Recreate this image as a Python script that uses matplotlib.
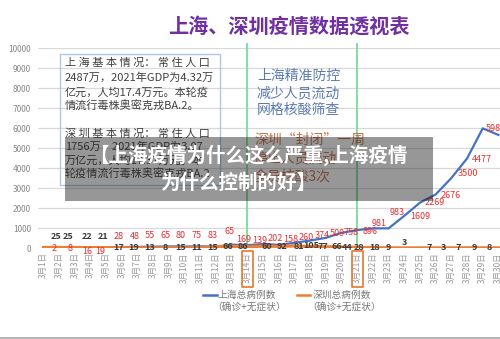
import matplotlib.pyplot as plt
import matplotlib.transforms as mtransforms
from matplotlib.patches import Rectangle
from matplotlib.lines import Line2D

plt.rcParams['font.family'] = ['Noto Sans CJK SC', 'DejaVu Sans']

# data
dates = [f'3月{d}日' for d in range(1, 31)]
shanghai = [2, 8, 16, 19, 28, 48, 55, 65, 80, 75, 83, 65, 169, 139, 202, 158,
            260, 374, 509, 758, 896, 981, 983, 1609, 2269, 2676, 3500, 4477, 5982, 5653]
shenzhen = [25, 25, 22, 21, 17, 19, 13, 8, 15, 11, 15, 66, 86, 60, 92, 81,
            105, 77, 66, 44, 28, 18, 9, 3, 7, 3, 7, 9, 8, 6]
marked_days = ['3月14日', '3月21日']

title = '上海、深圳疫情数据透视表'
info_lines = ['上 海 基 本 情 况： 常 住 人 口', '2487万，2021年GDP为4.32万',
              '亿元，人均17.4万元。本轮疫', '情流行毒株奥密克戎BA.2。',
              '深 圳 基 本 情 况： 常 住 人 口', '1756万，2021年GDP为3.07',
              '万亿元，人均17.37万元。本', '轮疫情流行毒株奥密克戎BA.2']
sh_note = ['上海精准防控', '减少人员流动', '网格核酸筛查']
sz_note = ['深圳“封闭”一周', '停止人员流动', '全员核酸3次']
overlay = ['【上海疫情为什么这么严重,上海疫情', '为什么控制的好】']

# label offsets in pixels
sh_dx = [11, 11, 12, 10, 12, 13, 12, 12, 12, 12, 12, 14, 12, 12, 12, 12,
         12, 12, 11, 10, 13, 6, 9, 16, 15, 15, 17, 15, 13, 20]
sh_dy = [-1, -1, -4, -4, 11, 11, 11, 11, 11, 11, 11, 15, 5, 5, 5, 5,
         5, 5, 4, 0, -1, 5, 16, -1, 0, -1, 5, -1, 0, 0]
sz_dx = [13, 9, 12, 13, 12, 12, 12, 12, 12, 12, 12, 12, 11, 19, 19, 20,
         17, 13, 11, 6, 2, 2, 0, 0, 9, 8, 7, 7, 7, 12]
sz_dy = [11, 11, 11, 11, 0, 0, 0, 0, 0, 0, 0, 0, 0, 0, 0, 0,
         0, 0, 0, 0, 0, 0, 0, 5, 0, 0, 0, 0, 0, 0]

W, H = 500, 339


def fx(x):
    return x / W


def fy(y):
    return 1 - y / H


fig = plt.figure(figsize=(5, 3.39), dpi=100)
ax = fig.add_axes([fx(38), fy(248), 462 / W, 200 / H])

x = list(range(len(dates)))
ax.plot(x, shanghai, color='#4472c4', lw=1.6, zorder=3)
ax.plot(x, shenzhen, color='#ed7d31', lw=2.3, zorder=4)

for i in x:
    ax.annotate(str(shanghai[i]), (i, shanghai[i]), xytext=(sh_dx[i], sh_dy[i]),
                textcoords='offset pixels', ha='center', va='center',
                fontsize=6.5, color='#e8302f', zorder=6, annotation_clip=False)
    ax.annotate(str(shenzhen[i]), (i, shenzhen[i]), xytext=(sz_dx[i], sz_dy[i]),
                textcoords='offset pixels', ha='center', va='center',
                fontsize=6.5, color='#3a3a3a', fontweight='bold', zorder=5,
                annotation_clip=False)

ax.set_xlim(-0.35, 29.1)
ax.set_ylim(0, 10000)
ax.set_yticks(range(0, 10001, 1000))
ax.yaxis.grid(True, color='#d9d9d9', lw=0.9)
ax.set_axisbelow(True)
ax.set_xticks(x)
ax.set_xticklabels(dates, rotation=90, fontsize=6, color='#999999')
ax.tick_params(axis='x', length=0, pad=3)
ax.tick_params(axis='y', length=0, pad=5, labelsize=6, labelcolor='#888888')
for s in ax.spines.values():
    s.set_visible(False)

mark_idx = [dates.index(d) for d in marked_days]
ax.vlines(mark_idx, 0, 10250, colors='#7fe0a0', lw=1.4, clip_on=False, zorder=2)
trans = mtransforms.blended_transform_factory(ax.transData, ax.transAxes)
for i in mark_idx:
    ax.add_patch(Rectangle((i - 0.36, -0.195), 0.72, 0.18, transform=trans,
                           fill=False, edgecolor='#e8772e', lw=1.2,
                           clip_on=False, joinstyle='round'))

fig.text(fx(289), fy(26), title, ha='center', va='center', fontsize=14.5,
         color='#7030a0', fontweight='bold')

fig.add_artist(Rectangle((fx(60), fy(185)), 160 / W, 131 / H, transform=fig.transFigure,
                         fill=False, edgecolor='#a9c8ea', lw=1))
info_y = [63, 78, 92, 106, 133, 147, 161, 174]
for t, yy in zip(info_lines, info_y):
    fig.text(fx(65), fy(yy), t, ha='left', va='center', fontsize=8, color='#404040')

for k, t in enumerate(sh_note):
    fig.text(fx(257), fy(76 + 17 * k), t, ha='left', va='center', fontsize=10,
             color='#5b7bb0')
for k, t in enumerate(sz_note):
    fig.text(fx(254), fy(140 + 18 * k), t, ha='left', va='center', fontsize=10,
             color='#c8704a')

fig.add_artist(Rectangle((fx(65), fy(201)), 368 / W, 64 / H, transform=fig.transFigure,
                         facecolor='#1a1a1a', edgecolor='none', alpha=0.45, zorder=10))
fig.text(fx(248), fy(155), overlay[0], ha='center', va='center', fontsize=14,
         color='white', fontweight='bold', zorder=11)
fig.text(fx(238), fy(183), overlay[1], ha='center', va='center', fontsize=14,
         color='white', fontweight='bold', zorder=11)

# legend
fig.add_artist(Line2D([fx(203), fx(217)], [fy(295)] * 2, color='#4472c4', lw=1.8))
fig.text(fx(247), fy(295), '上海总病例数', ha='center', va='center', fontsize=7, color='#777777')
fig.text(fx(249), fy(307), '（确诊+无症状）', ha='center', va='center', fontsize=7, color='#777777')
fig.add_artist(Line2D([fx(297), fx(310)], [fy(295)] * 2, color='#ed7d31', lw=1.8))
fig.text(fx(342), fy(295), '深圳总病例数', ha='center', va='center', fontsize=7, color='#777777')
fig.text(fx(344), fy(307), '（确诊+无症状）', ha='center', va='center', fontsize=7, color='#777777')

fig.add_artist(Line2D([0, 1], [fy(338)] * 2, color='#b0b0b0', lw=2))

fig.savefig('out.png', dpi=100)
